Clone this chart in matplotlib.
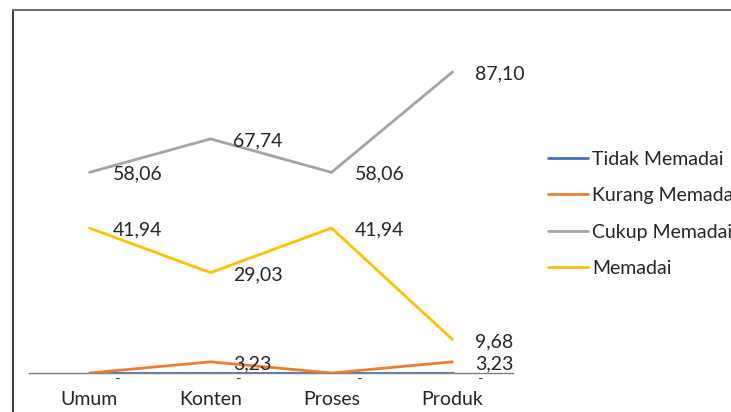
import matplotlib.pyplot as plt
from matplotlib.lines import Line2D
from matplotlib.transforms import offset_copy
import numpy as np

plt.rcParams['font.family'] = ['Lato', 'DejaVu Sans']

categories = ["Umum", "Konten", "Proses", "Produk"]
series_names = ["Tidak Memadai", "Kurang Memadai", "Cukup Memadai", "Memadai"]
tidak = [0, 0, 0, 0]
kurang = [0, 3.23, 0, 3.23]
cukup = [58.06, 67.74, 58.06, 87.10]
memadai = [41.94, 29.03, 41.94, 9.68]
colors = ["#4472C4", "#ED7D31", "#A5A5A5", "#FFC000"]

W, H = 731, 412
fig = plt.figure(figsize=(W / 100, H / 100), dpi=100)
ax = fig.add_axes([29 / W, (H - 373) / H, (513 - 29) / W, (373 - 27.4) / H])

x = np.arange(len(categories))
all_series = [tidak, kurang, cukup, memadai]
for name, vals, c in zip(series_names, all_series, colors):
    ax.plot(x, vals, color=c, lw=2, label=name, solid_capstyle='round', zorder=3)

def fmt(v):
    if v == 0:
        return "-"
    return f"{v:.2f}".replace(".", ",")

# data labels, right of each point (shifted down a touch)
lbl_tr = offset_copy(ax.transData, fig=fig, x=0, y=-2, units='dots')
dx = 23 / 121.0
for i, v in enumerate(tidak):
    ax.text(x[i] + dx + 0.02, v, fmt(v), ha='left', va='top', fontsize=11,
            color='#404040', zorder=4)
for vals in (kurang, cukup, memadai):
    for i, v in enumerate(vals):
        if v == 0:
            continue
        ax.text(x[i] + dx, v, fmt(v), ha='left', va='center', fontsize=14,
                color='#262626', zorder=4, transform=lbl_tr)

ax.set_xlim(-0.5, 3.5)
ax.set_ylim(0, 100)
ax.set_xticks(x)
ax.set_xticklabels(categories, fontsize=14, color='#262626')
ax.tick_params(axis='x', length=0, pad=13)
ax.set_yticks([])
for s in ("top", "right", "left"):
    ax.spines[s].set_visible(False)
ax.spines["bottom"].set_color("#7f7f7f")
ax.spines["bottom"].set_linewidth(1)

leg = fig.legend(loc='center left', bbox_to_anchor=(548 / W, 1 - 214 / H),
                 frameon=False, fontsize=14, borderpad=0, borderaxespad=0,
                 handlelength=2.06, handletextpad=0.2, labelspacing=1.0)
for t in leg.get_texts():
    t.set_color('#262626')

# outer frame (left and top edges visible)
fig.add_artist(Line2D([12.5 / W, 12.5 / W], [0, 1 - 9.5 / H], color='#1a1a1a', lw=1.2,
                      transform=fig.transFigure))
fig.add_artist(Line2D([12.5 / W, 1], [1 - 9.5 / H, 1 - 9.5 / H], color='#6e6e6e', lw=1.5,
                      transform=fig.transFigure))

fig.savefig("out.png", dpi=100)
